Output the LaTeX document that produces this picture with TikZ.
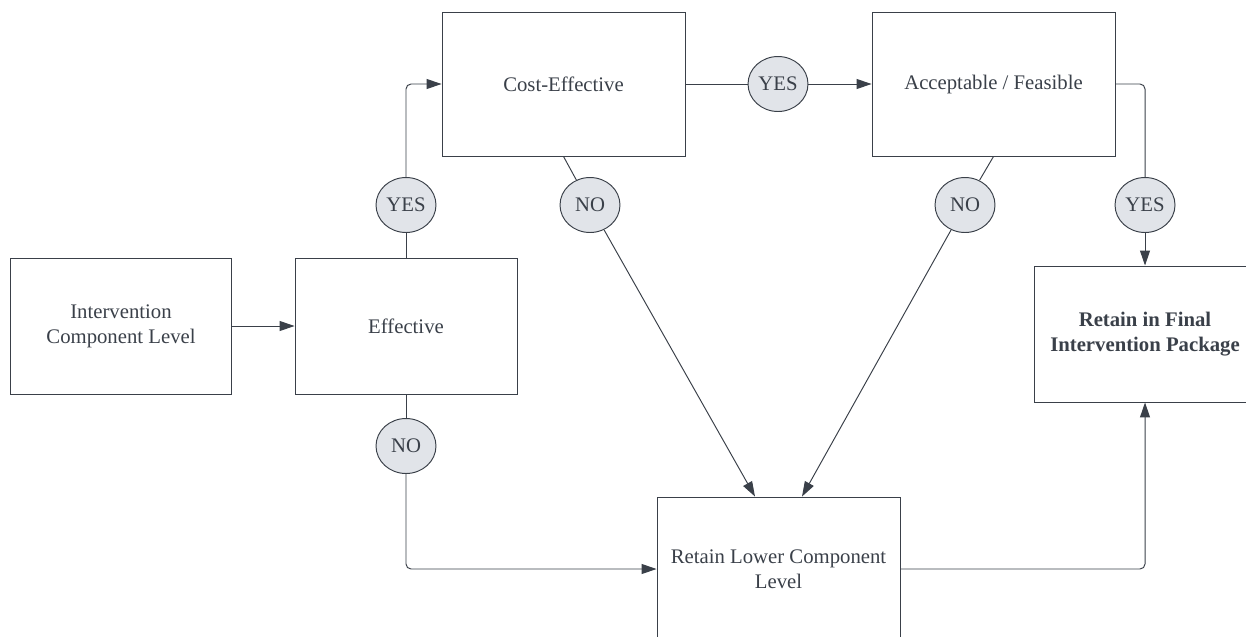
\documentclass[tikz,border=0pt]{standalone}
\usepackage{fontspec}
\setmainfont{Liberation Serif}
\usetikzlibrary{shapes.geometric,arrows.meta,calc}
\definecolor{ink}{HTML}{3A4049}
\definecolor{pill}{HTML}{E1E4E9}

\begin{document}
\begin{tikzpicture}[x=0.02cm,y=-0.02cm,font=\fontsize{11.8}{14.4}\selectfont,
      box/.style={rectangle,draw=ink,line width=0.55pt,text=ink,align=center,inner sep=0pt},
      std/.style={box,minimum width=4.44cm,minimum height=2.72cm},
      wide/.style={box,minimum width=4.86cm,minimum height=2.88cm},
      goal/.style={std,font=\fontsize{11.8}{14.4}\selectfont\bfseries},
      ans/.style={ellipse,draw=ink,fill=pill,text=ink,line width=0.55pt,
                  minimum width=1.2cm,minimum height=1.1cm,inner sep=0pt},
      ln/.style={draw=ink,line width=0.55pt},
      a/.style={ln,-{Triangle[length=3mm,width=2mm]}},
      elbow/.style={rounded corners=0.1cm}]
      \useasboundingbox (0,0) rectangle (1246,636);
      \clip (0,0) rectangle (1246,636);
      % boxes
      \node[std]  (lvl)  at (121,326)   {Intervention\\Component Level};
      \node[std]  (eff)  at (406,326)   {Effective};
      \node[wide] (cost) at (563.5,84)  {Cost-Effective};
      \node[wide] (acc)  at (993.5,84)  {\strut Acceptable / Feasible};
      \node[goal] (fin)  at (1145,334)  {Retain in Final\\Intervention Package};
      \node[wide] (low)  at (778.5,569) {Retain Lower Component\\Level};
      % answers
      \node[ans] (y1) at (406,205)  {YES};
      \node[ans] (n1) at (590,205)  {NO};
      \node[ans] (y2) at (778,84)   {YES};
      \node[ans] (n2) at (965,205)  {NO};
      \node[ans] (y3) at (1145,205) {YES};
      \node[ans] (n3) at (406,446)  {NO};
      % connectors
      \draw[a] (lvl) -- (eff);
      \draw[ln] (eff) -- (y1); \draw[a,elbow] (y1) |- (cost);
      \draw[ln] (cost) -- (y2); \draw[a] (y2) -- (acc);
      \draw[ln,elbow] (acc) -| (y3); \draw[a] (y3) -- (fin);
      \draw[ln] (cost.south) -- (n1); \draw[a] (n1) -- ($(low.north)+(-23.5,0)$);
      \draw[ln] (acc.south) -- (n2);  \draw[a] (n2) -- ($(low.north)+(23.5,0)$);
      \draw[ln] (eff) -- (n3); \draw[a,elbow] (n3) |- (low);
      \draw[a,elbow] (low) -| (fin);
    \end{tikzpicture}
\end{document}
